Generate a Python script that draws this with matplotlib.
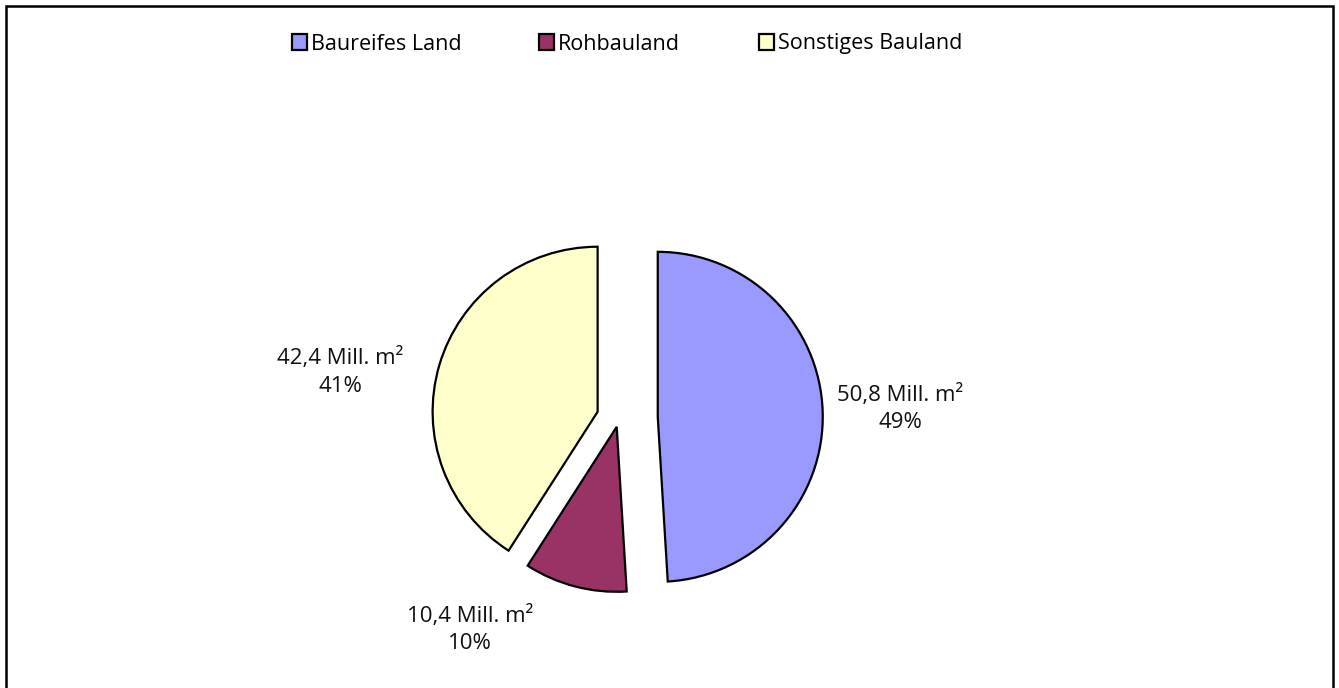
import matplotlib.pyplot as plt
from matplotlib.patches import Patch, Rectangle

# Bauland data (Mill. m²)
categories = ['Baureifes Land', 'Rohbauland', 'Sonstiges Bauland']
values = [50.8, 10.4, 42.4]
value_labels = ['50,8', '10,4', '42,4']
colors = ['#9999FF', '#993366', '#FFFFCC']

plt.rcParams['font.family'] = ['Open Sans', 'DejaVu Sans']

W, H = 1339, 688
R = 165.0  # pie radius in pixels
cx, cy = 619, H - 418  # pie center in pixels (y up)

fig = plt.figure(figsize=(W / 100, H / 100), dpi=100)
ax = fig.add_axes([0, 0, 1, 1])

wedges, _ = ax.pie(values, startangle=90, counterclock=False, radius=1,
                   explode=[0.235, 0.055, 0.135], colors=colors,
                   wedgeprops=dict(edgecolor='black', linewidth=1.6))
# pie() sets its own limits, so set them afterwards
ax.set_xlim(-cx / R, (W - cx) / R)
ax.set_ylim(-cy / R, (H - cy) / R)
ax.set_aspect('equal')
ax.axis('off')

total = sum(values)
# label offsets from each wedge's center, in radius units
offsets = [(1.47, 0.05), (-0.89, -1.23), (-1.56, 0.24)]
for w, v, s, (dx, dy) in zip(wedges, values, value_labels, offsets):
    x0, y0 = w.center
    pct = round(v / total * 100)
    ax.text(x0 + dx, y0 + dy, f'{s} Mill. m²\n{pct}%', ha='center', va='center',
            fontsize=16, linespacing=1.4, color='#111111')

# legend, one entry per block like the spreadsheet original
legend_x = [292, 539, 759]
for xpix, cat, col in zip(legend_x, categories, colors):
    h = Patch(facecolor=col, edgecolor='black', linewidth=1.6)
    leg = fig.legend([h], [cat], loc='center left',
                     bbox_to_anchor=(xpix / W, 1 - 44 / H), frameon=False,
                     fontsize=15.5, handlelength=0.7, handleheight=0.7,
                     handletextpad=0.2, borderpad=0, borderaxespad=0)

# outer frame
fig.patches.append(Rectangle((6 / W, -0.05), (W - 12) / W, 1.05 - 6 / H,
                             transform=fig.transFigure, fill=False,
                             edgecolor='black', linewidth=1.8))

fig.savefig('out.png', dpi=100)
